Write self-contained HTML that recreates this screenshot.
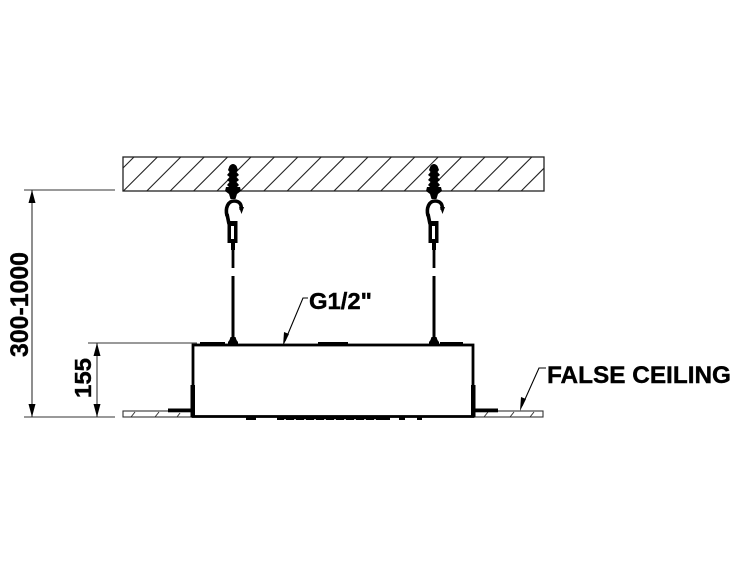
<!DOCTYPE html>
<html><head><meta charset="utf-8"><style>
html,body{margin:0;padding:0;background:#fff;}
svg{display:block;}
text{font-family:"Liberation Sans",Arial,sans-serif;font-weight:bold;fill:#000;stroke:#000;stroke-width:0.4;}
</style></head><body>
<svg width="750" height="563" viewBox="0 0 750 563" xmlns="http://www.w3.org/2000/svg">
<defs>
<clipPath id="slab"><rect x="123" y="157" width="421" height="34"/></clipPath>
<g id="hanger">
  <!-- plug -->
  <path d="M-3.5,166 Q0,162 3.5,166 L5,170 L3.5,172 L6,175 L3.5,177 L6,180 L3.5,182 L6,185 L4,187 L-4,187 L-6,185 L-3.5,182 L-6,180 L-3.5,177 L-6,175 L-3.5,172 L-5,170 Z" fill="#000"/>
  <!-- collar -->
  <path d="M-7,187 L7,187 L8,191 L4,194 L2.5,199 L-2.5,199 L-4,194 L-8,191 Z" fill="#000"/>
  <!-- hook -->
  <path d="M-6,216 C-8,208 -5,201 1,201 C7,201 9,205 8,210" fill="none" stroke="#000" stroke-width="3.6"/>
  <path d="M6,207 L11,207 L8.5,214 Z" fill="#000"/>
  <path d="M-6,214 L-4,224" stroke="#000" stroke-width="3.6"/>
  <!-- lock -->
  <rect x="-5.5" y="221" width="10" height="22" fill="#000"/>
  <rect x="-2" y="226" width="3" height="13" fill="#fff"/>
  <rect x="-2" y="243" width="4" height="7" fill="#000"/>
  <line x1="0" y1="250" x2="0" y2="268" stroke="#000" stroke-width="2.8"/>
  <line x1="0" y1="276" x2="0" y2="338" stroke="#000" stroke-width="3"/>
  <path d="M-2.5,337 L2.5,337 L3.5,340 L5,342 L5,345 L-5,345 L-5,342 L-3.5,340 Z" fill="#000"/>
</g>
</defs>

<!-- ceiling slab -->
<rect x="123" y="157" width="421" height="34" fill="#fff" stroke="#222" stroke-width="1.3"/>
<g clip-path="url(#slab)" stroke="#222" stroke-width="1.1">
  <line x1="100" y1="191" x2="134" y2="157"/>
  <line x1="123.4" y1="191" x2="157.4" y2="157"/>
  <line x1="146.8" y1="191" x2="180.8" y2="157"/>
  <line x1="170.2" y1="191" x2="204.2" y2="157"/>
  <line x1="193.6" y1="191" x2="227.6" y2="157"/>
  <line x1="217" y1="191" x2="251" y2="157"/>
  <line x1="240.4" y1="191" x2="274.4" y2="157"/>
  <line x1="263.8" y1="191" x2="297.8" y2="157"/>
  <line x1="287.2" y1="191" x2="321.2" y2="157"/>
  <line x1="310.6" y1="191" x2="344.6" y2="157"/>
  <line x1="334" y1="191" x2="368" y2="157"/>
  <line x1="357.4" y1="191" x2="391.4" y2="157"/>
  <line x1="380.8" y1="191" x2="414.8" y2="157"/>
  <line x1="404.2" y1="191" x2="438.2" y2="157"/>
  <line x1="427.6" y1="191" x2="461.6" y2="157"/>
  <line x1="451" y1="191" x2="485" y2="157"/>
  <line x1="474.4" y1="191" x2="508.4" y2="157"/>
  <line x1="497.8" y1="191" x2="531.8" y2="157"/>
  <line x1="521.2" y1="191" x2="555.2" y2="157"/>
</g>

<!-- hangers -->
<use href="#hanger" transform="translate(233,0)"/>
<use href="#hanger" transform="translate(434,0)"/>

<!-- dimension lines -->
<g stroke="#333" stroke-width="1.1">
  <line x1="24" y1="190" x2="115" y2="190"/>
  <line x1="24" y1="417" x2="115" y2="417"/>
  <line x1="32" y1="190" x2="32" y2="417"/>
  <line x1="88" y1="343" x2="197" y2="343"/>
  <line x1="97" y1="343" x2="97" y2="417"/>
</g>
<g fill="#000">
  <path d="M32,190 L28.5,203 L35.5,203 Z"/>
  <path d="M32,417 L28.5,404 L35.5,404 Z"/>
  <path d="M97,343 L93.5,356 L100.5,356 Z"/>
  <path d="M97,417 L93.5,404 L100.5,404 Z"/>
</g>
<text transform="translate(28,304.5) rotate(-90)" text-anchor="middle" font-size="25" textLength="105" lengthAdjust="spacingAndGlyphs">300-1000</text>
<text transform="translate(91,378) rotate(-90)" text-anchor="middle" font-size="23" textLength="40" lengthAdjust="spacingAndGlyphs">155</text>

<!-- false ceiling slabs -->
<rect x="123" y="411" width="70" height="6" fill="#fff" stroke="#333" stroke-width="1.1"/>
<rect x="473" y="411" width="70" height="6" fill="#fff" stroke="#333" stroke-width="1.1"/>
<g stroke="#333" stroke-width="1">
  <line x1="131" y1="417" x2="135" y2="412"/>
  <line x1="155" y1="417" x2="159" y2="412"/>
  <line x1="177" y1="417" x2="180" y2="413"/>
  <line x1="484" y1="417" x2="488" y2="412"/>
  <line x1="510" y1="417" x2="514" y2="412"/>
  <line x1="530" y1="417" x2="534" y2="412"/>
</g>

<!-- box -->
<rect x="193" y="345" width="280" height="71.5" fill="#fff" stroke="#000" stroke-width="2.8"/>
<g fill="#000">
  <rect x="190.5" y="385" width="4.5" height="32"/>
  <rect x="471" y="385" width="4.5" height="32"/>
  <rect x="168" y="408.5" width="26" height="3.8"/>
  <rect x="472" y="408.5" width="26" height="3.8"/>
  <rect x="200" y="342" width="25" height="4"/>
  <rect x="318" y="342" width="30" height="4"/>
  <rect x="440" y="342" width="23" height="4"/>
  <!-- bottom nozzles -->
  <rect x="246" y="416" width="10" height="4"/>
  <rect x="277" y="416" width="113" height="4"/>
  <rect x="399" y="416" width="6" height="4"/>
  <rect x="417" y="416" width="5" height="4"/>
</g>
<g stroke="#fff" stroke-width="1.5">
  <line x1="285" y1="419" x2="285" y2="421"/>
  <line x1="295" y1="419" x2="295" y2="421"/>
  <line x1="305" y1="419" x2="305" y2="421"/>
  <line x1="315" y1="419" x2="315" y2="421"/>
  <line x1="325" y1="419" x2="325" y2="421"/>
  <line x1="335" y1="419" x2="335" y2="421"/>
  <line x1="345" y1="419" x2="345" y2="421"/>
  <line x1="355" y1="419" x2="355" y2="421"/>
  <line x1="365" y1="419" x2="365" y2="421"/>
  <line x1="375" y1="419" x2="375" y2="421"/>
</g>

<!-- G1/2" leader -->
<polyline points="308,298 303,298 285,341" fill="none" stroke="#000" stroke-width="1.1"/>
<path d="M283,346 L284,332 L289,334 Z" fill="#000"/>
<text x="309" y="309" font-size="23" textLength="63" lengthAdjust="spacingAndGlyphs">G1/2"</text>

<!-- FALSE CEILING leader -->
<polyline points="546,368 539,368 522,406" fill="none" stroke="#000" stroke-width="1.1"/>
<path d="M520,411 L521,397 L526,399 Z" fill="#000"/>
<text x="547" y="383" font-size="24" textLength="184" lengthAdjust="spacingAndGlyphs">FALSE CEILING</text>
</svg>
</body></html>
